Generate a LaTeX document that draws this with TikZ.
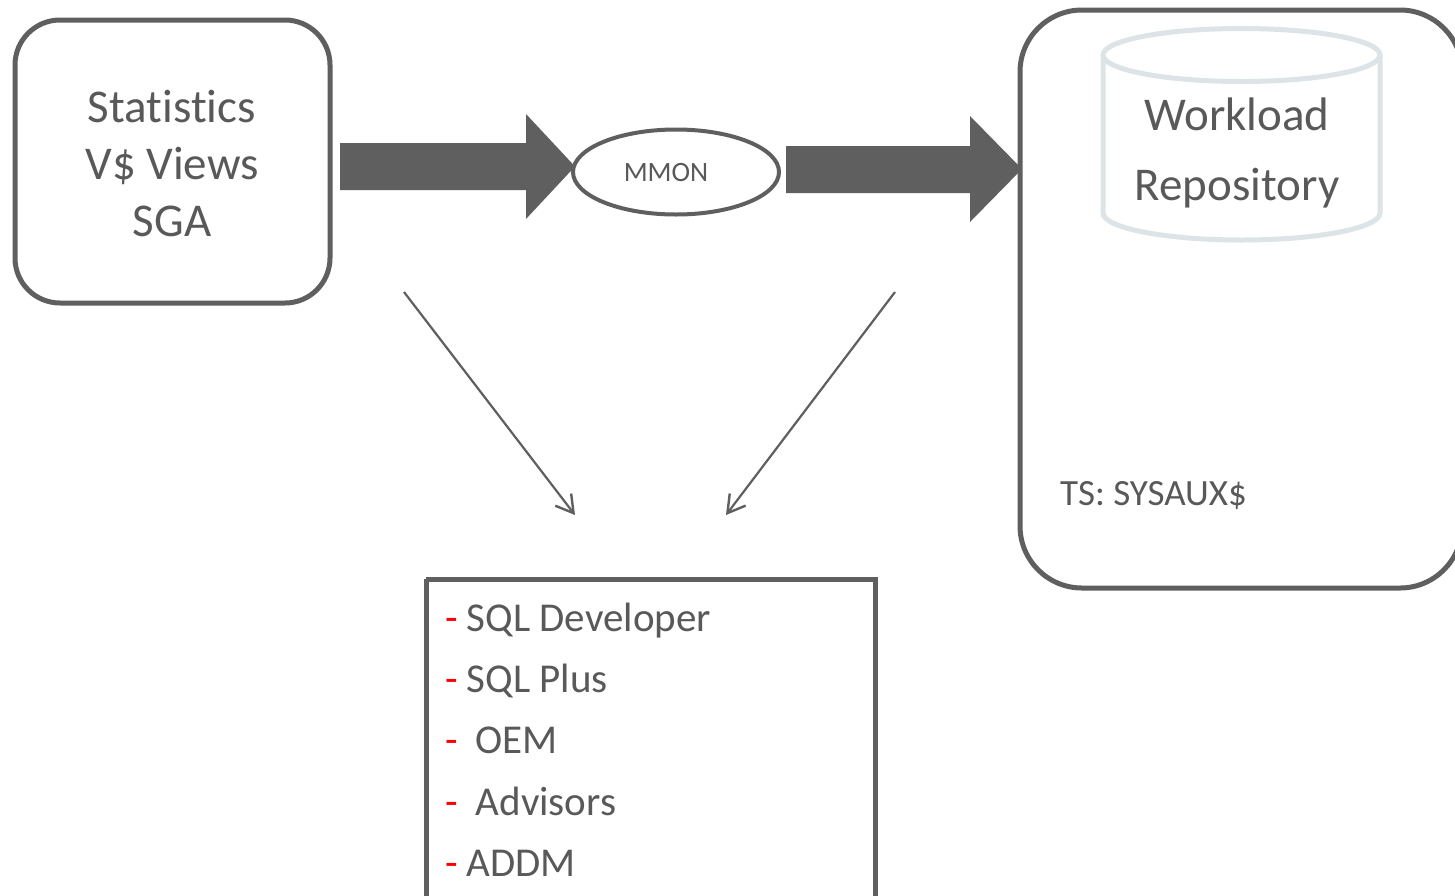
\documentclass[tikz,border=0pt]{standalone}
\usepackage{fontspec}
\setmainfont{Carlito}[Ligatures={NoCommon}]
\usetikzlibrary{arrows.meta,shapes.geometric}
\definecolor{dgray}{HTML}{5F5F5F}
\definecolor{tgray}{HTML}{595959}
\definecolor{cyl}{HTML}{DCE4E7}
\begin{document}
\begin{tikzpicture}[x=1pt,y=-1pt,
  box/.style={draw=dgray,line width=5pt},
  bigarrow/.style={fill=dgray,draw=none},
  thin/.style={draw=dgray,line width=2.2pt,-{Straight Barb[length=17pt,width=20pt,line width=2.4pt]}},
  big/.style={text=tgray,font=\fontsize{47}{57}\selectfont,align=center},
  item/.style={text=tgray,font=\fontsize{41}{48}\selectfont,anchor=base west,inner sep=0pt}
]
\useasboundingbox (0,0) rectangle (1455,895);
\fill[white] (0,0) rectangle (1455,895);
\clip (0,0) rectangle (1455,895);

% left box
\draw[box,rounded corners=45pt] (15,20) rectangle (330,303);
\node[big] (stats) at (172,163) {Statistics\\V\$ Views\\SGA};

% right box
\draw[box,rounded corners=62pt] (1020,10) rectangle (1462,588);
\node[text=tgray,font=\fontsize{37}{44}\selectfont,anchor=base west,inner sep=0pt] (ts) at (1060,505) {TS: SYSAUX\$};

% cylinder
\draw[draw=cyl,line width=5pt] (1241.5,55) ellipse [x radius=138.5pt, y radius=26.5pt];
\draw[draw=cyl,line width=5pt] (1103,55) -- (1103,213) arc[start angle=180,end angle=360,x radius=138.5pt,y radius=27pt] -- (1380,55);
\node[big,font=\fontsize{47}{70}\selectfont] (repo) at (1237,153) {Workload\\Repository};

% MMON
\node[draw=dgray,line width=4pt,ellipse,minimum width=206pt,minimum height=85pt,inner sep=0pt] (mmon) at (676,172) {};
\node[text=tgray,font=\fontsize{28}{30}\selectfont,inner sep=0pt] (mmontext) at (666,173) {MMON};

% big arrows
\fill[bigarrow] (340,143) -- (526,143) -- (526,114) -- (575,166.5) -- (526,219) -- (526,190) -- (340,190) -- cycle;
\fill[bigarrow] (786,146) -- (970,146) -- (970,116) -- (1022,169) -- (970,222) -- (970,193) -- (786,193) -- cycle;

% thin arrows
\coordinate (a1s) at (404,292);
\coordinate (a1e) at (575,515);
\coordinate (a2s) at (895,292);
\coordinate (a2e) at (726,515);
\draw[thin] (a1s) -- (a1e);
\draw[thin] (a2s) -- (a2e);

% bottom box
\draw[box] (426,579) -- (426,910) (426,579) -- (875,579) -- (875,910);
\node[item] (i1) at (445,631) {{\color{red}-}\hspace{9pt}SQL Developer};
\node[item] (i2) at (445,692) {{\color{red}-}\hspace{9pt}SQL Plus};
\node[item] (i3) at (445,753.5) {{\color{red}-}\hspace{18pt}OEM};
\node[item] (i4) at (445,815) {{\color{red}-}\hspace{18pt}Advisors};
\node[item] (i5) at (445,876) {{\color{red}-}\hspace{9pt}ADDM};
\end{tikzpicture}
\end{document}
